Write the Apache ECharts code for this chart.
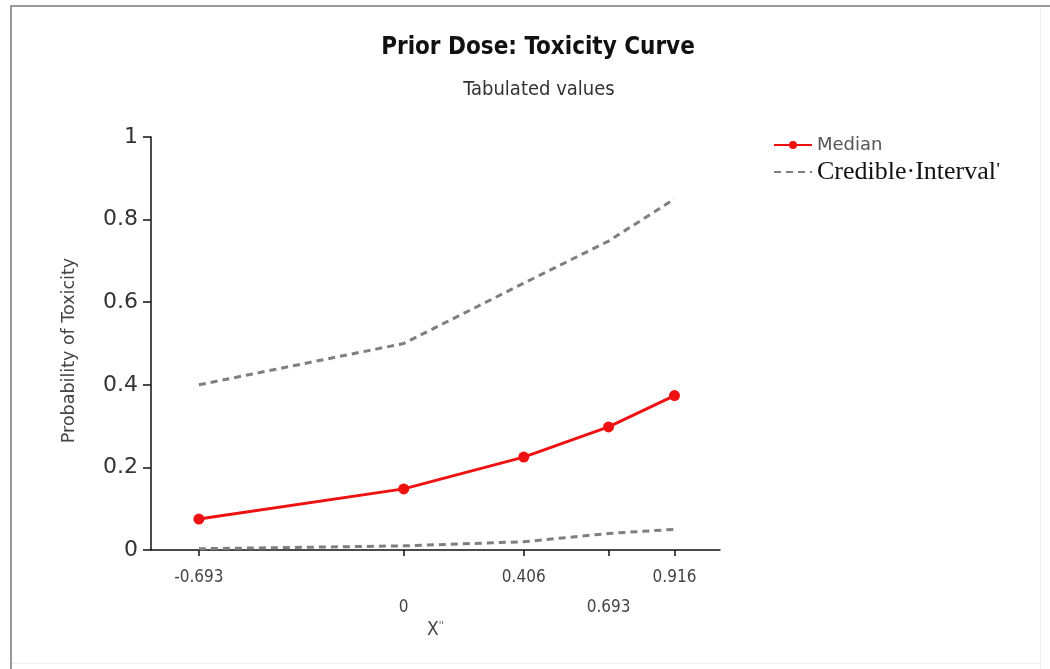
<!DOCTYPE html>
<html>
<head>
<meta charset="utf-8">
<script src="https://cdn.jsdelivr.net/npm/echarts@6/dist/echarts.min.js"></script>
<style>
  html, body { margin: 0; padding: 0; background: #fff; }
  #chart { width: 1050px; height: 669px; }
</style>
</head>
<body>
<div id="chart"></div>
<script>
// Dose levels (log scale) and tabulated toxicity probabilities
const doseLevels = [-0.693, 0, 0.406, 0.693, 0.916];
const doseLabels = ['-0.693', '0', '0.406', '0.693', '0.916'];
const medianValues = [0.075, 0.148, 0.225, 0.298, 0.374];
const upperValues = [0.40, 0.50, 0.646, 0.748, 0.85];
const lowerValues = [0.003, 0.01, 0.02, 0.04, 0.05];
// Labels that drop to a second row under the axis
const loweredLabels = ['0', '0.693'];

const narrow = "'DejaVu Sans Condensed', 'Liberation Sans', sans-serif";
const wide = "'DejaVu Sans', 'Liberation Sans', sans-serif";
const serif = "'Liberation Serif', 'Times New Roman', serif";

const pairs = arr => doseLevels.map((x, i) => [x, arr[i]]);

const chart = echarts.init(document.getElementById('chart'), null, { renderer: 'canvas' });

chart.setOption({
  backgroundColor: '#ffffff',
  animation: false,
  title: [{
    text: 'Prior Dose: Toxicity Curve',
    left: 533, top: 31, textAlign: 'center',
    textStyle: { fontFamily: narrow, fontWeight: 'bold', fontSize: 24, color: '#111' }
  }, {
    text: 'Tabulated values',
    left: 534, top: 75, textAlign: 'center',
    textStyle: { fontFamily: narrow, fontWeight: 'normal', fontSize: 20, color: '#333' }
  }],
  legend: {
    orient: 'vertical',
    left: 768, top: 131,
    itemWidth: 38, itemHeight: 10, itemGap: 5,
    data: [
      { name: 'Median' },
      { name: 'Credible·Interval', itemStyle: { opacity: 0 } }
    ],
    formatter: name => name === 'Median' ? '{m|Median}' : '{c|Credible·Interval}{p|\'}',
    textStyle: {
      rich: {
        m: { fontFamily: wide, fontSize: 18, color: '#555', lineHeight: 20 },
        c: { fontFamily: serif, fontSize: 26, color: '#111', lineHeight: 20 },
        p: { fontFamily: serif, fontSize: 16, fontWeight: 'bold', color: '#111', lineHeight: 20, verticalAlign: 'top' }
      }
    }
  },
  grid: { left: 151, right: 330, top: 137, bottom: 119, containLabel: false },
  xAxis: {
    type: 'value',
    min: -0.855, max: 1.07,
    name: '{x|X}{s|\'\'}',
    nameLocation: 'middle',
    nameGap: 71,
    nameMoveOverlap: false,
    nameTextStyle: {
      rich: {
        x: { fontFamily: narrow, fontSize: 19, color: '#444' },
        s: { fontFamily: narrow, fontSize: 11, color: '#666', verticalAlign: 'top' }
      }
    },
    splitLine: { show: false },
    axisLine: { show: true, onZero: false, lineStyle: { color: '#111', width: 1.5 } },
    axisTick: { show: true, length: 6, inside: false, customValues: doseLevels, lineStyle: { color: '#111', width: 1.5 } },
    axisLabel: {
      customValues: doseLevels,
      margin: 13,
      fontFamily: narrow, fontSize: 17, color: '#444',
      lineHeight: 30,
      formatter: v => {
        const i = doseLevels.findIndex(d => Math.abs(d - v) < 1e-9);
        const s = i >= 0 ? doseLabels[i] : '';
        return loweredLabels.includes(s) ? '\n' + s : s;
      }
    }
  },
  yAxis: {
    type: 'value',
    min: 0, max: 1, interval: 0.2,
    name: 'Probability of Toxicity',
    nameLocation: 'middle',
    nameGap: 73,
    nameMoveOverlap: false,
    nameTextStyle: { fontFamily: wide, fontSize: 17.5, color: '#444', padding: [0, 14, 0, 0] },
    splitLine: { show: false },
    axisLine: { show: true, onZero: false, lineStyle: { color: '#111', width: 1.5 } },
    axisTick: { show: true, length: 8, lineStyle: { color: '#111', width: 1.5 } },
    axisLabel: { margin: 13, fontFamily: wide, fontSize: 22, color: '#333' }
  },
  series: [{
    name: 'Median',
    type: 'line',
    data: pairs(medianValues),
    symbol: 'circle', symbolSize: 11,
    itemStyle: { color: '#ee1111' },
    lineStyle: { color: '#ee1111', width: 3 },
    z: 3
  }, {
    name: 'Credible·Interval',
    type: 'line',
    data: pairs(upperValues),
    symbol: 'none',
    itemStyle: { color: '#7f7f7f' },
    lineStyle: { color: '#7f7f7f', width: 3, type: [7, 5] }
  }, {
    name: 'Credible·Interval',
    type: 'line',
    data: pairs(lowerValues),
    symbol: 'none',
    itemStyle: { color: '#7f7f7f' },
    lineStyle: { color: '#7f7f7f', width: 3, type: [7, 5] }
  }],
  graphic: [
    // window frame lines
    { type: 'rect', shape: { x: 10, y: 5, width: 1040, height: 2 }, style: { fill: '#9a9a9a' }, silent: true },
    { type: 'rect', shape: { x: 10, y: 5, width: 2, height: 664 }, style: { fill: '#9a9a9a' }, silent: true },
    { type: 'rect', shape: { x: 1040, y: 7, width: 1, height: 662 }, style: { fill: '#eeeeee' }, silent: true },
    { type: 'rect', shape: { x: 12, y: 663, width: 1028, height: 1 }, style: { fill: '#eeeeee' }, silent: true }
  ]
});
</script>
</body>
</html>
